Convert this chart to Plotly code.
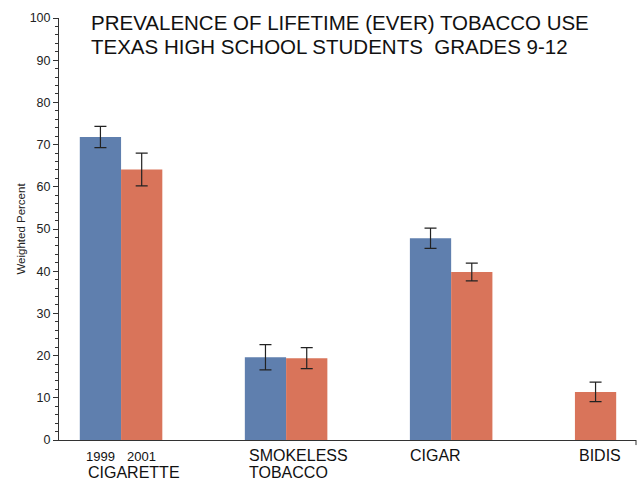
import plotly.graph_objects as go

categories = ["CIGARETTE", "SMOKELESS<br>TOBACCO", "CIGAR", "BIDIS"]
years = ["1999", "2001"]
values_1999 = [71.8, 19.6, 47.8]
err_1999 = [2.5, 3.0, 2.4]
values_2001 = [64.1, 19.4, 39.8, 11.4]
err_2001 = [3.9, 2.5, 2.1, 2.3]
y_ticks = list(range(0, 101, 10))
title_lines = ["PREVALENCE OF LIFETIME (EVER) TOBACCO USE",
               "TEXAS HIGH SCHOOL STUDENTS  GRADES 9-12"]

blue = "#5F7FAE"
orange = "#D9745A"
font = "Liberation Sans, Arial, sans-serif"
bw = 0.25

fig = go.Figure()
fig.add_trace(go.Bar(
    x=list(range(len(values_1999))), y=values_1999, width=bw, offset=-bw,
    marker=dict(color=blue, line=dict(width=0)), name=years[0],
    error_y=dict(type="data", array=err_1999, color="#222", thickness=1.2, width=6),
))
fig.add_trace(go.Bar(
    x=list(range(len(values_2001))), y=values_2001, width=bw,
    offset=[0, 0, 0, -bw],
    marker=dict(color=orange, line=dict(width=0)), name=years[1],
    error_y=dict(type="data", array=err_2001, color="#222", thickness=1.2, width=6),
))

# year labels under the first group
for i, yr in enumerate(years):
    fig.add_annotation(x=(i - 0.5) * bw, y=0, xref="x", yref="y", text=yr,
                       showarrow=False, yanchor="top", yshift=-7,
                       font=dict(family=font, size=13, color="#111"))

# category labels
label_dx = [-0.21, -0.235, -0.26, -0.235]
label_row = [1, 0, 0, 0]
for i, c in enumerate(categories):
    for j, part in enumerate(c.split("<br>")):
        fig.add_annotation(x=i + label_dx[i], y=0, xref="x", yref="y", text=part,
                           showarrow=False, xanchor="left", yanchor="top",
                           yshift=-5 - 17 * (label_row[i] + j),
                           font=dict(family=font, size=16, color="#111"))

for k, line in enumerate(title_lines):
    fig.add_annotation(x=0.052, y=1.0, xref="paper", yref="paper", text=line,
                       showarrow=False, xanchor="left", yanchor="middle",
                       yshift=-4 - 24 * k,
                       font=dict(family=font, size=20.5, color="#111"))

# small end tick on the x axis
fig.add_shape(type="line", xref="paper", yref="paper", x0=1, x1=1, y0=0, y1=-0.012,
              line=dict(color="#333", width=1))

fig.update_layout(
    width=641, height=480,
    margin=dict(l=59, r=5, t=18, b=40),
    plot_bgcolor="white", paper_bgcolor="white",
    showlegend=False, barmode="overlay",
    font=dict(family=font, color="#111"),
    xaxis=dict(range=[-0.376, 3.12], showticklabels=False, ticks="",
               showgrid=False, zeroline=False, showline=True,
               linecolor="#333", linewidth=1),
    yaxis=dict(range=[0, 100], tickvals=y_ticks, ticks="outside", ticklen=5,
               tickcolor="#333", showgrid=False, zeroline=False, showline=True,
               linecolor="#333", linewidth=1,
               tickfont=dict(family=font, size=12.5, color="#222"),
               minor=dict(dtick=2, ticks="outside", ticklen=3, tickcolor="#333"),
               title=dict(text="Weighted Percent", font=dict(family=font, size=11.5, color="#222"),
                          standoff=1)),
)

fig.write_html("out.html", config={"displayModeBar": False},
               post_script="document.body.style.margin='0';document.body.style.overflow='hidden';")
